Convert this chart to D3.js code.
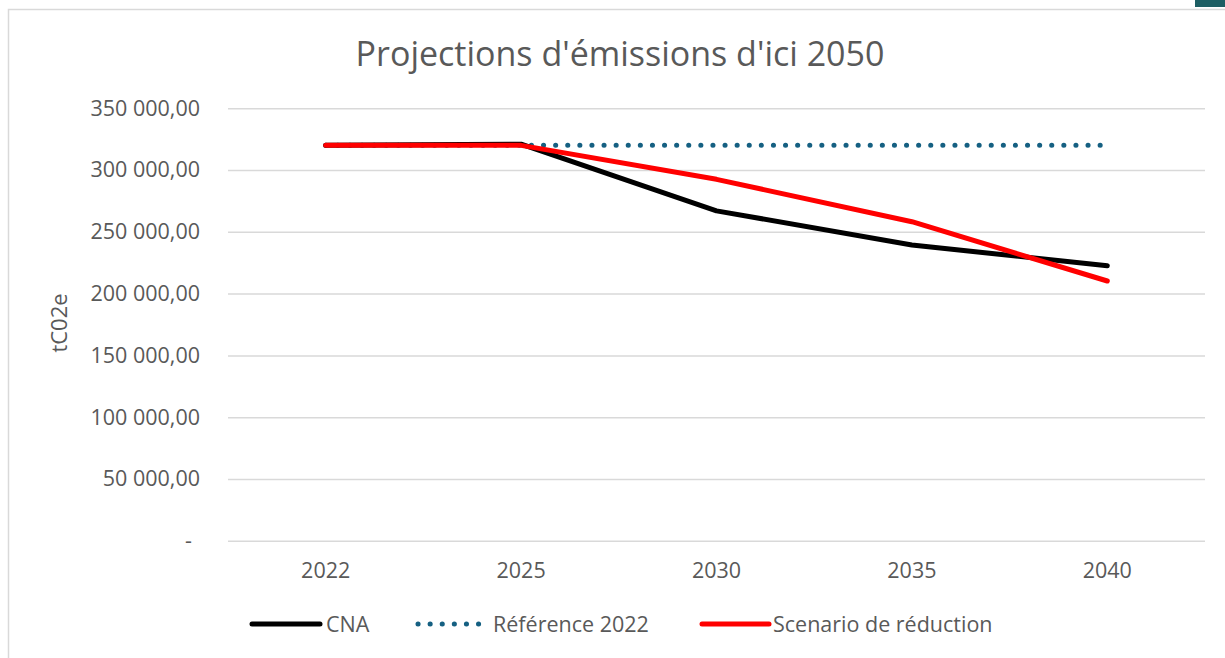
<!DOCTYPE html>
<html>
<head>
<meta charset="utf-8">
<script src="https://cdn.jsdelivr.net/npm/d3@7"></script>
<style>
  body { margin: 0; background: #fff; }
  svg { display: block; font-family: "Open Sans", "Liberation Sans", sans-serif; }
</style>
</head>
<body>
<svg id="chart" width="1225" height="658"></svg>
<script>
// données
const years = ["2022", "2025", "2030", "2035", "2040"];
const cna = [320000, 321000, 267000, 239300, 222600];
const reference2022 = [320000, 320000, 320000, 320000, 320000];
const scenario = [320000, 320000, 292500, 258200, 210200];
const yTicks = [0, 50000, 100000, 150000, 200000, 250000, 300000, 350000];

const svg = d3.select("#chart");

// cadre du graphique
svg.append("rect")
    .attr("x", 8.5).attr("y", 9.5)
    .attr("width", 1240).attr("height", 700)
    .attr("fill", "#fff")
    .attr("stroke", "#d9d9d9")
    .attr("stroke-width", 1.5);

svg.append("rect")
    .attr("x", 1195).attr("y", 0)
    .attr("width", 30).attr("height", 7)
    .attr("fill", "#1d5e63");

svg.append("text")
    .attr("x", 620).attr("y", 66)
    .attr("text-anchor", "middle")
    .attr("fill", "#595959")
    .style("font-size", "34px")
    .text("Projections d'émissions d'ici 2050");

const x = d3.scaleBand().domain(years).range([228, 1205]);
const y = d3.scaleLinear().domain([0, 350000]).range([540.7, 108.3]);

const fmt = v => v === 0 ? "-" : d3.format(",.2f")(v).replace(/,/g, " ").replace(".", ",");

// grille + axe y
const yAxis = svg.append("g")
    .attr("transform", "translate(228,0)")
    .call(d3.axisLeft(y).tickValues(yTicks).tickSize(-977).tickPadding(28).tickFormat(fmt));
yAxis.select(".domain").remove();
yAxis.selectAll("line").attr("stroke", "#d9d9d9").attr("stroke-width", 1.5);
yAxis.selectAll("text")
    .attr("fill", "#595959")
    .style("font-size", "21.5px")
    .style("font-family", "'Open Sans', sans-serif");
yAxis.selectAll(".tick").filter(d => d === 0).select("text").attr("dx", -8);

// axe x
const xAxis = svg.append("g")
    .attr("transform", "translate(0,540.7)")
    .call(d3.axisBottom(x).tickSize(0).tickPadding(22));
xAxis.select(".domain").remove();
xAxis.selectAll("text")
    .attr("fill", "#595959")
    .style("font-size", "21.5px")
    .style("font-family", "'Open Sans', sans-serif");

svg.append("text")
    .attr("transform", "translate(67,323) rotate(-90)")
    .attr("text-anchor", "middle")
    .attr("fill", "#595959")
    .style("font-size", "22px")
    .text("tC02e");

const line = d3.line()
    .x((d, i) => x(years[i]) + x.bandwidth() / 2)
    .y(d => y(d));

const series = [
    { name: "CNA", values: cna, color: "#000000", dash: null },
    { name: "Référence 2022", values: reference2022, color: "#156082", dash: "0.1 12" },
    { name: "Scenario de réduction", values: scenario, color: "#ff0000", dash: null }
];

// ordre de tracé : référence, CNA, scénario
[series[1], series[0], series[2]].forEach(s => {
    svg.append("path")
        .datum(s.values)
        .attr("d", line)
        .attr("fill", "none")
        .attr("stroke", s.color)
        .attr("stroke-width", 5)
        .attr("stroke-linecap", "round")
        .attr("stroke-linejoin", "round")
        .attr("stroke-dasharray", s.dash);
});

// légende
const legendPos = [
    { x1: 252, x2: 320, tx: 326 },
    { x1: 418, x2: 482, tx: 493 },
    { x1: 702, x2: 769, tx: 773 }
];
const legend = svg.append("g");
series.forEach((s, i) => {
    const p = legendPos[i];
    legend.append("line")
        .attr("x1", p.x1).attr("x2", p.x2)
        .attr("y1", 624).attr("y2", 624)
        .attr("stroke", s.color)
        .attr("stroke-width", 5)
        .attr("stroke-linecap", "round")
        .attr("stroke-dasharray", s.dash);
    legend.append("text")
        .attr("x", p.tx).attr("y", 632)
        .attr("fill", "#595959")
        .style("font-size", "21.5px")
        .text(s.name);
});
</script>
</body>
</html>
